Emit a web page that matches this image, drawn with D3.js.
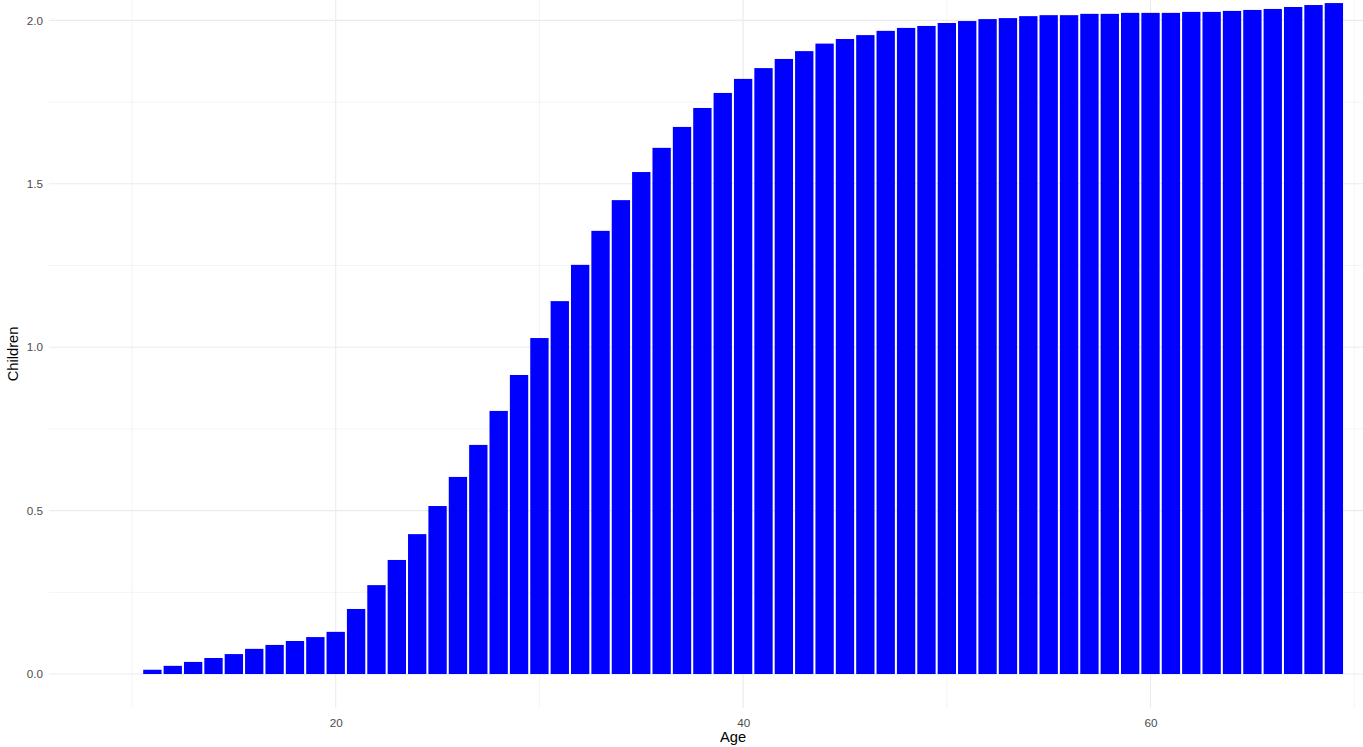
<!DOCTYPE html>
<html>
<head>
<meta charset="utf-8">
<script src="https://cdn.jsdelivr.net/npm/d3@7"></script>
<style>
  html, body { margin: 0; padding: 0; background: #fff; }
  svg { display: block; }
  text { font-family: "Liberation Sans", Arial, Helvetica, sans-serif; }
</style>
</head>
<body>
<svg id="chart" width="1363" height="747"></svg>
<script>
const ages = d3.range(11, 70);
const children = [
  0.013, 0.025, 0.037, 0.049, 0.061, 0.077, 0.089, 0.101, 0.113, 0.129,
  0.199, 0.272, 0.349, 0.428, 0.514, 0.603, 0.701, 0.805, 0.915, 1.028,
  1.141, 1.252, 1.356, 1.450, 1.536, 1.610, 1.674, 1.732, 1.778, 1.821,
  1.854, 1.882, 1.906, 1.929, 1.943, 1.955, 1.968, 1.977, 1.983, 1.992,
  1.998, 2.004, 2.007, 2.013, 2.016, 2.016, 2.020, 2.020, 2.023, 2.023,
  2.023, 2.026, 2.026, 2.029, 2.032, 2.035, 2.041, 2.047, 2.053
];
const xMajorTicks = [20, 40, 60];
const xMinorTicks = [10, 30, 50, 70];
const yMajorTicks = [0, 0.5, 1.0, 1.5, 2.0];
const yMinorTicks = [0.25, 0.75, 1.25, 1.75];
const xTitle = "Age";
const yTitle = "Children";

const data = ages.map((a, i) => ({ age: a, value: children[i] }));

const W = 1363, H = 747;
const panel = { left: 49, right: 1363, top: 0, bottom: 708 };

const x = d3.scaleLinear().domain([5.925, 70.43]).range([panel.left, panel.right]);
const y = d3.scaleLinear().domain([-0.104, 2.0624]).range([panel.bottom, panel.top]);

const svg = d3.select("#chart");
const grid = svg.append("g");

// minor gridlines
grid.selectAll(".xminor").data(xMinorTicks).join("line")
  .attr("x1", d => x(d)).attr("x2", d => x(d))
  .attr("y1", panel.top).attr("y2", panel.bottom)
  .attr("stroke", "#ebebeb").attr("stroke-width", 0.55);
grid.selectAll(".yminor").data(yMinorTicks).join("line")
  .attr("x1", panel.left).attr("x2", panel.right)
  .attr("y1", d => y(d)).attr("y2", d => y(d))
  .attr("stroke", "#ebebeb").attr("stroke-width", 0.55);
// major gridlines
grid.selectAll(".xmajor").data(xMajorTicks).join("line")
  .attr("x1", d => x(d)).attr("x2", d => x(d))
  .attr("y1", panel.top).attr("y2", panel.bottom)
  .attr("stroke", "#ebebeb").attr("stroke-width", 1.1);
grid.selectAll(".ymajor").data(yMajorTicks).join("line")
  .attr("x1", panel.left).attr("x2", panel.right)
  .attr("y1", d => y(d)).attr("y2", d => y(d))
  .attr("stroke", "#ebebeb").attr("stroke-width", 1.1);

// bars
svg.append("g").selectAll("rect").data(data).join("rect")
  .attr("x", d => x(d.age - 0.45))
  .attr("width", d => x(d.age + 0.45) - x(d.age - 0.45))
  .attr("y", d => y(d.value))
  .attr("height", d => y(0) - y(d.value))
  .attr("fill", "#0000ff");

// axes (no lines/ticks, just labels)
const xAxis = svg.append("g")
  .attr("transform", `translate(0,${panel.bottom})`)
  .call(d3.axisBottom(x).tickValues(xMajorTicks).tickSize(0).tickPadding(11).tickFormat(d3.format("d")));
xAxis.select(".domain").remove();
xAxis.selectAll("text").attr("fill", "#4d4d4d").style("font-size", "11.7px")
  .style("font-family", "'Liberation Sans', Arial, sans-serif");

const yAxis = svg.append("g")
  .attr("transform", `translate(${panel.left},0)`)
  .call(d3.axisLeft(y).tickValues(yMajorTicks).tickSize(0).tickPadding(6).tickFormat(d3.format(".1f")));
yAxis.select(".domain").remove();
yAxis.selectAll("text").attr("fill", "#4d4d4d").style("font-size", "11.7px")
  .style("font-family", "'Liberation Sans', Arial, sans-serif");

// titles
svg.append("text")
  .attr("x", x(40) - 10).attr("y", 742)
  .attr("text-anchor", "middle")
  .style("font-size", "14.7px").attr("fill", "#000")
  .text(xTitle);
svg.append("text")
  .attr("transform", `translate(18,${(panel.top + panel.bottom) / 2}) rotate(-90)`)
  .attr("text-anchor", "middle")
  .style("font-size", "14.7px").attr("fill", "#000")
  .text(yTitle);
</script>
</body>
</html>
